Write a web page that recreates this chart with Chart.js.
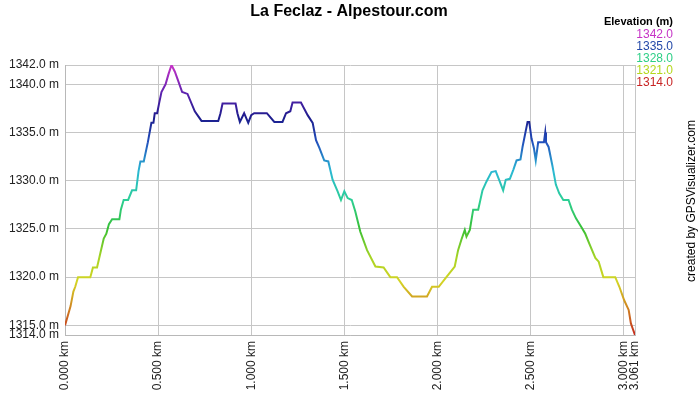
<!DOCTYPE html>
<html>
<head>
<meta charset="utf-8">
<script src="https://cdn.jsdelivr.net/npm/chart.js"></script>
<style>
  html, body { margin: 0; padding: 0; background: #fff; }
  #wrap { width: 700px; height: 400px; position: relative; }
</style>
</head>
<body>
<div id="wrap"><canvas id="profil"></canvas></div>
<script>
// profil altimétrique
const distKm = [
  0.000, 0.015, 0.030, 0.045, 0.055, 0.070, 0.136, 0.150, 0.172, 0.190,
  0.208, 0.222, 0.236, 0.253, 0.292, 0.300, 0.315, 0.339, 0.360, 0.382,
  0.395, 0.405, 0.423, 0.445, 0.464, 0.475, 0.482, 0.495, 0.505, 0.518,
  0.540, 0.555, 0.572, 0.590, 0.605, 0.629, 0.658, 0.697, 0.733, 0.823,
  0.835, 0.846, 0.916, 0.926, 0.939, 0.962, 0.984, 1.000, 1.016, 1.084,
  1.124, 1.168, 1.187, 1.210, 1.222, 1.267, 1.303, 1.330, 1.339, 1.348,
  1.366, 1.392, 1.414, 1.437, 1.464, 1.482, 1.500, 1.518, 1.540, 1.559,
  1.586, 1.622, 1.667, 1.711, 1.747, 1.783, 1.819, 1.864, 1.944, 1.971,
  2.007, 2.048, 2.093, 2.111, 2.129, 2.147, 2.156, 2.174, 2.192, 2.219,
  2.242, 2.263, 2.290, 2.313, 2.335, 2.353, 2.367, 2.389, 2.407, 2.425,
  2.446, 2.457, 2.484, 2.493, 2.505, 2.518, 2.528, 2.541, 2.572, 2.579,
  2.583, 2.597, 2.618, 2.636, 2.654, 2.676, 2.704, 2.722, 2.744, 2.776,
  2.794, 2.815, 2.848, 2.866, 2.891, 2.955, 2.977, 3.003, 3.027, 3.039,
  3.048, 3.061
];
const elevM = [
  1315, 1316, 1317, 1318.5, 1319, 1320, 1320, 1321, 1321, 1322.5,
  1324, 1324.5, 1325.5, 1326, 1326, 1327, 1328, 1328, 1329, 1329,
  1331, 1332, 1332, 1334, 1336, 1336, 1337, 1337, 1338, 1339.2,
  1340, 1341, 1342, 1341.3, 1340.5, 1339.2, 1339, 1337.2, 1336.2, 1336.2,
  1337, 1338, 1338, 1337, 1336.1, 1337, 1336, 1336.8, 1337, 1337,
  1336.1, 1336.1, 1337, 1337.2, 1338.1, 1338.1, 1336.8, 1336, 1335.1, 1334.2,
  1333.4, 1332.1, 1332, 1330.1, 1328.9, 1328, 1328.9, 1328.2, 1328, 1326.8,
  1324.7, 1322.8, 1321.1, 1321, 1320, 1320, 1319, 1318, 1318, 1319,
  1319, 1320, 1321.1, 1322.8, 1323.9, 1324.9, 1324.2, 1324.9, 1327, 1327,
  1329, 1329.9, 1330.9, 1331, 1329.9, 1329, 1330.1, 1330.2, 1331.1, 1332.1,
  1332.2, 1333.5, 1336.1, 1336.1, 1334.4, 1333.4, 1332.1, 1334, 1334, 1335,
  1334, 1333.5, 1331.5, 1329.6, 1328.7, 1328, 1328, 1327, 1326.1, 1325.1,
  1324.5, 1323.5, 1322, 1321.6, 1320, 1320, 1319, 1317.6, 1316.6, 1315.2,
  1314.7, 1314
];
const xTicks = [0, 0.5, 1.0, 1.5, 2.0, 2.5, 3.0, 3.061];
const yTicks = [1314, 1315, 1320, 1325, 1330, 1335, 1340, 1342];
const legendValues = [1342, 1335, 1328, 1321, 1314];
const legendColors = ['#c633c6', '#2348a8', '#2ccf86', '#b6d81e', '#c82424'];

const titre = 'La Feclaz - Alpestour.com';
const police = 'Arial, "Liberation Sans", sans-serif';
const yMin = 1314, yMax = 1342;

// couleurs de la ligne selon l'altitude
const colorStops = [
  [1314, '#c42a1c'], [1317, '#d08a22'], [1319.5, '#d4d424'], [1322, '#a8d424'],
  [1325, '#38c034'], [1328, '#2ccf96'], [1331, '#2ab8d4'], [1334, '#2250bc'],
  [1336.5, '#1c1c8c'], [1339, '#5a22ae'], [1342, '#c832c8']
];

function lineGradient(context) {
  const chart = context.chart;
  const area = chart.chartArea;
  if (!area) return '#1c1c8c';
  const g = chart.ctx.createLinearGradient(0, area.bottom, 0, area.top);
  colorStops.forEach(([v, c]) => g.addColorStop((v - yMin) / (yMax - yMin), c));
  return g;
}

const decor = {
  id: 'decor',
  afterDraw(chart) {
    const ctx = chart.ctx;
    ctx.save();
    // titre
    ctx.fillStyle = '#000';
    ctx.font = 'bold 16px ' + police;
    ctx.textAlign = 'center';
    ctx.textBaseline = 'middle';
    ctx.fillText(titre, 349, 12);
    // légende
    ctx.textAlign = 'right';
    ctx.font = 'bold 11px ' + police;
    ctx.fillText('Elevation (m)', 673, 22);
    ctx.font = '12px ' + police;
    legendValues.forEach((v, i) => {
      ctx.fillStyle = legendColors[i];
      ctx.fillText(v.toFixed(1), 673, 35 + i * 11.8);
    });
    // crédit vertical
    ctx.translate(692, 201);
    ctx.rotate(-Math.PI / 2);
    ctx.textAlign = 'center';
    ctx.fillStyle = '#000';
    ctx.font = '12px ' + police;
    ctx.fillText('created by GPSVisualizer.com', 0, 0);
    ctx.restore();
  }
};

const points = distKm.map((d, i) => ({ x: d, y: elevM[i] }));

new Chart(document.getElementById('profil'), {
  type: 'line',
  data: {
    datasets: [{
      data: points,
      borderColor: lineGradient,
      borderWidth: 2,
      pointRadius: 0,
      tension: 0,
      fill: false
    }]
  },
  options: {
    responsive: true,
    maintainAspectRatio: false,
    animation: false,
    layout: { padding: { top: 65, right: 65, left: 0, bottom: 0 } },
    plugins: { legend: { display: false }, tooltip: { enabled: false } },
    scales: {
      x: {
        type: 'linear',
        min: 0,
        max: 3.061,
        afterBuildTicks: axis => { axis.ticks = xTicks.map(v => ({ value: v })); },
        afterFit: axis => { axis.height = 65; },
        grid: { color: '#c6c6c6', drawTicks: false },
        border: { color: '#b8b8b8' },
        ticks: {
          autoSkip: false,
          minRotation: 90,
          maxRotation: 90,
          padding: 6,
          color: '#222',
          font: { family: police, size: 12 },
          callback: v => Number(v).toFixed(3) + ' km'
        }
      },
      y: {
        type: 'linear',
        min: yMin,
        max: yMax,
        afterBuildTicks: axis => { axis.ticks = yTicks.map(v => ({ value: v })); },
        afterFit: axis => { axis.width = 65; },
        grid: { color: '#c6c6c6', drawTicks: false },
        border: { color: '#b8b8b8' },
        ticks: {
          autoSkip: false,
          padding: 6,
          color: '#222',
          font: { family: police, size: 12 },
          callback: v => Number(v).toFixed(1) + ' m'
        }
      }
    }
  },
  plugins: [decor]
});
</script>
</body>
</html>
